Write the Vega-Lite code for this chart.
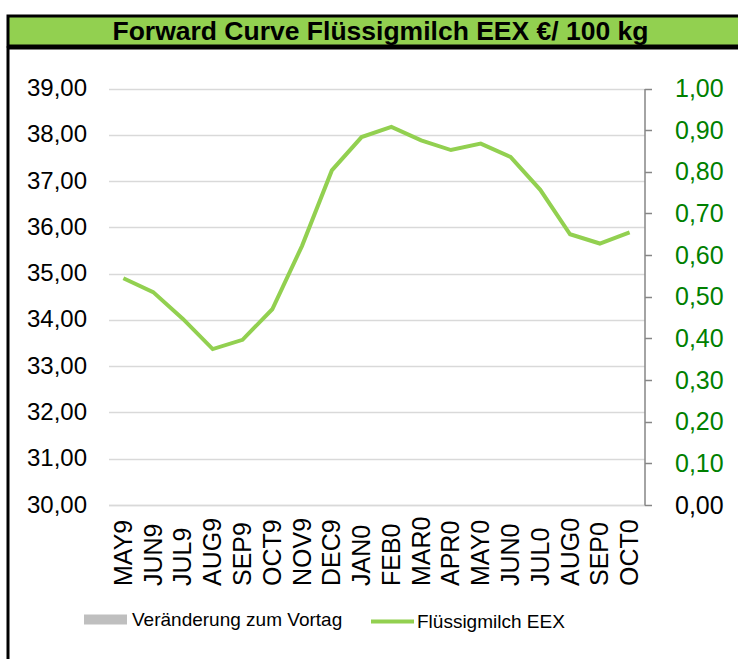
{
  "$schema": "https://vega.github.io/schema/vega-lite/v6.json",
  "padding": {"left": 6, "top": 14, "right": -4, "bottom": -4},
  "background": "white",
  "spacing": -3,
  "config": {"font": "Liberation Sans"},
  "datasets": {
    "curve": [
      {"month": "MAY9", "price": 34.90, "change": 0},
      {"month": "JUN9", "price": 34.60, "change": 0},
      {"month": "JUL9", "price": 34.02, "change": 0},
      {"month": "AUG9", "price": 33.37, "change": 0},
      {"month": "SEP9", "price": 33.57, "change": 0},
      {"month": "OCT9", "price": 34.23, "change": 0},
      {"month": "NOV9", "price": 35.60, "change": 0},
      {"month": "DEC9", "price": 37.23, "change": 0},
      {"month": "JAN0", "price": 37.95, "change": 0},
      {"month": "FEB0", "price": 38.17, "change": 0},
      {"month": "MAR0", "price": 37.88, "change": 0},
      {"month": "APR0", "price": 37.67, "change": 0},
      {"month": "MAY0", "price": 37.81, "change": 0},
      {"month": "JUN0", "price": 37.52, "change": 0},
      {"month": "JUL0", "price": 36.81, "change": 0},
      {"month": "AUG0", "price": 35.85, "change": 0},
      {"month": "SEP0", "price": 35.65, "change": 0},
      {"month": "OCT0", "price": 35.89, "change": 0}
    ],
    "heading": [{"label": "Forward Curve Flüssigmilch EEX €/ 100 kg"}]
  },
  "vconcat": [
    {
      "width": 733,
      "height": 30,
      "view": {"fill": "#92d050", "stroke": "black", "strokeWidth": 3},
      "data": {"name": "heading"},
      "mark": {"type": "text", "font": "Liberation Sans", "fontWeight": "bold", "fontSize": 26.5, "color": "black", "dx": 6, "dy": 1, "baseline": "middle", "align": "center"},
      "encoding": {"text": {"field": "label", "type": "nominal"}}
    },
    {
      "width": 733,
      "height": 616,
      "view": {"stroke": "black", "strokeWidth": 3, "fill": "white"},
      "data": {"name": "curve"},
      "encoding": {
        "x": {
          "field": "month", "type": "ordinal", "sort": null,
          "scale": {"type": "point", "padding": 0.5, "range": [100.5, 636.5]},
          "axis": {
            "orient": "bottom", "offset": -159, "title": null,
            "labelAngle": 270, "labelAlign": "left", "labelBaseline": "middle",
            "labelPadding": 80.5, "ticks": false, "tickSize": 0,
            "domain": true, "domainColor": "#d9d9d9", "domainWidth": 1.5,
            "labelFontSize": 25, "labelColor": "black", "labelFont": "Liberation Sans",
            "labelOverlap": false, "labelBound": false, "grid": false
          }
        }
      },
      "layer": [
        {
          "mark": {"type": "bar", "color": "#bfbfbf"},
          "encoding": {
            "y": {
              "field": "change", "type": "quantitative",
              "scale": {"domain": [0, 1], "range": [457, 40.5], "nice": false, "zero": true},
              "axis": {
                "orient": "right", "offset": -96.5, "title": null,
                "values": [0, 0.1, 0.2, 0.3, 0.4, 0.5, 0.6, 0.7, 0.8, 0.9, 1],
                "labelExpr": "replace(format(datum.value, '.2f'), '.', ',')",
                "domain": true, "domainColor": "#868686", "domainWidth": 1.5,
                "ticks": true, "tickColor": "#868686", "tickSize": 7, "tickWidth": 1.5,
                "labelPadding": 23, "labelFontSize": 25, "labelFont": "Liberation Sans",
                "labelColor": {"condition": {"test": "datum.value == 0", "value": "black"}, "value": "#008000"},
                "grid": false
              }
            },
            "fill": {
              "datum": "Veränderung zum Vortag",
              "scale": {"range": ["#bfbfbf"]},
              "legend": {
                "orient": "none", "legendX": 76, "legendY": 550, "title": null,
                "symbolType": "M-1,-0.23H1V0.23H-1Z", "symbolSize": 1849, "symbolStrokeWidth": 0,
                "labelFontSize": 19, "labelColor": "black", "labelOffset": 5, "labelFont": "Liberation Sans", "labelLimit": 400
              }
            }
          }
        },
        {
          "mark": {"type": "line", "strokeWidth": 4, "color": "#92d050"},
          "encoding": {
            "y": {
              "field": "price", "type": "quantitative",
              "scale": {"domain": [30, 39], "range": [457, 40.5], "nice": false, "zero": false},
              "axis": {
                "orient": "left", "offset": -100.5, "title": null,
                "values": [30, 31, 32, 33, 34, 35, 36, 37, 38, 39],
                "labelExpr": "replace(format(datum.value, '.2f'), '.', ',')",
                "domain": false, "ticks": false, "tickSize": 0,
                "labelPadding": 22, "labelFontSize": 24, "labelColor": "black", "labelFont": "Liberation Sans",
                "grid": true, "gridColor": "#d9d9d9", "gridWidth": 1.5
              }
            },
            "stroke": {
              "datum": "Flüssigmilch EEX",
              "scale": {"range": ["#92d050"]},
              "legend": {
                "orient": "none", "legendX": 361, "legendY": 550, "title": null,
                "symbolType": "stroke", "symbolSize": 1849, "symbolStrokeWidth": 4,
                "labelFontSize": 19, "labelColor": "black", "labelOffset": 1, "labelFont": "Liberation Sans", "labelLimit": 400
              }
            }
          }
        }
      ],
      "resolve": {"scale": {"y": "independent", "fill": "independent", "stroke": "independent"}, "axis": {"y": "independent"}}
    }
  ]
}
